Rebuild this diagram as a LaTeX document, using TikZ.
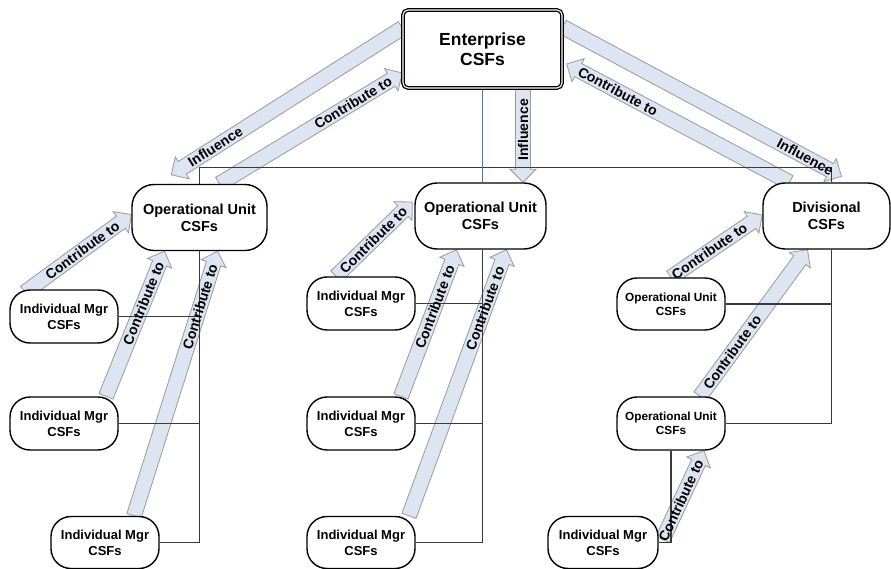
\documentclass[tikz,border=0pt]{standalone}
\usepackage{fontspec}
\setmainfont{Liberation Sans}
\usetikzlibrary{calc}
\pgfdeclarelayer{arrowlayer}
\pgfdeclarelayer{linelayer}
\pgfsetlayers{arrowlayer,linelayer,main}
\definecolor{arrfill}{HTML}{DDE5F3}
\definecolor{arrdraw}{HTML}{9A9A9A}
\definecolor{linegray}{HTML}{3A3A3A}
\definecolor{blueline}{HTML}{5A76A8}
\tikzset{
  entbox/.style={draw=black, line width=1.3pt, double=white, double distance=1.1pt,
    rounded corners=5pt, fill=white, minimum width=159pt, minimum height=78pt, inner sep=0pt,
    align=center, font=\fontsize{17.5}{20.5}\selectfont\bfseries},
  bigbox/.style={draw=black, line width=1.4pt, rounded corners=22pt, fill=white,
    minimum height=66pt, inner sep=0pt, align=center, font=\fontsize{14.5}{17}\selectfont\bfseries},
  imbox/.style={draw=black, line width=1.4pt, rounded corners=20pt, fill=white,
    minimum width=108pt, minimum height=53pt, inner sep=0pt, align=center,
    font=\fontsize{13}{16}\selectfont\bfseries},
  soubox/.style={imbox, font=\fontsize{11.8}{14}\selectfont\bfseries},
  blockarr/.style={fill=arrfill, draw=arrdraw, line width=0.8pt, line join=miter},
  orgline/.style={draw=linegray, line width=1.1pt},
  lab/.style={font=\fontsize{14}{16}\selectfont\bfseries, inner sep=0pt, sloped},
}
\newcommand\barrow[2]{%
  \coordinate (hd) at ($(#2)!13pt!(#1)$);
  \path[blockarr] ($(#1)!7.5pt!90:(#2)$) -- ($(hd)!7.5pt!90:(#2)$) -- ($(hd)!13pt!90:(#2)$)
    -- (#2) -- ($(hd)!13pt!-90:(#2)$) -- ($(hd)!7.5pt!-90:(#2)$) -- ($(#1)!7.5pt!-90:(#2)$) -- cycle;}
\begin{document}
\begin{tikzpicture}[x=1pt,y=-1pt]
\useasboundingbox (0,0) rectangle (891,569);
% nodes
\node[entbox] (ent) at (482.5,49) {Enterprise\\CSFs};
\node[bigbox, minimum width=135pt] (ou1) at (199.5,217.5) {Operational Unit\\CSFs};
\node[bigbox, minimum width=131pt] (ou2) at (480.5,216) {Operational Unit\\CSFs};
\node[bigbox, minimum width=127pt] (div) at (826.5,216) {Divisional\\CSFs};
\node[imbox] (im1a) at (64,316.5) {Individual Mgr\\CSFs};
\node[imbox] (im1b) at (64,423.5) {Individual Mgr\\CSFs};
\node[imbox, minimum height=52pt] (im1c) at (105,542.5) {Individual Mgr\\CSFs};
\node[imbox] (im2a) at (361,303.5) {Individual Mgr\\CSFs};
\node[imbox] (im2b) at (361,423.5) {Individual Mgr\\CSFs};
\node[imbox, minimum height=52pt] (im2c) at (361,542.5) {Individual Mgr\\CSFs};
\node[soubox, minimum height=52pt] (ru1) at (671,304) {Operational Unit\\CSFs};
\node[soubox] (ru2) at (671,423.5) {Operational Unit\\CSFs};
\node[imbox, minimum width=110pt, minimum height=52pt] (ri) at (603,542.5) {Individual Mgr\\CSFs};
% arrow end points
\coordinate (a1) at ([yshift=21pt]ent.west);
\coordinate (b1) at ([xshift=40pt,yshift=9pt]ou1.north west);
\coordinate (a2) at ([xshift=20pt]ou1.north);
\coordinate (b2) at ([yshift=-24pt]ent.west);
\coordinate (a3) at ([xshift=40.5pt]ent.south);
\coordinate (b3) at (a3 |- ou2.north);
\coordinate (a4) at ([yshift=22pt]ent.east);
\coordinate (b4) at ([xshift=15pt,yshift=6pt]div.north);
\coordinate (a5) at ([xshift=-37pt]div.north);
\coordinate (b5) at ([xshift=4pt,yshift=-15pt]ent.east);
\coordinate (a6) at ([xshift=-39pt,yshift=-3pt]im1a.north);
\coordinate (b6) at ([yshift=3pt]ou1.west);
\coordinate (a7) at ([xshift=42pt]im1b.north);
\coordinate (b7) at ([xshift=-35pt]ou1.south);
\coordinate (a8) at ([xshift=29pt]im1c.north);
\coordinate (b8) at ([xshift=18pt]ou1.south);
\coordinate (a9) at ([xshift=-25pt]im2a.north);
\coordinate (b9) at ([xshift=-2pt,yshift=14pt]ou2.west);
\coordinate (a10) at ([xshift=40pt]im2b.north);
\coordinate (b10) at ([xshift=-24pt]ou2.south);
\coordinate (a11) at ([xshift=48pt]im2c.north);
\coordinate (b11) at ([xshift=26pt]ou2.south);
\coordinate (a12) at (ru1.north);
\coordinate (b12) at ([yshift=1pt]div.west);
\coordinate (a13) at ([xshift=29pt]ru2.north);
\coordinate (b13) at ([xshift=-19pt]div.south);
\coordinate (a14) at ([xshift=4pt,yshift=3pt]ri.east);
\coordinate (b14) at ([xshift=33pt]ru2.south);
\begin{pgfonlayer}{arrowlayer}
\barrow{a1}{b1}\barrow{a2}{b2}\barrow{a3}{b3}\barrow{a4}{b4}\barrow{a5}{b5}
\barrow{a6}{b6}\barrow{a7}{b7}\barrow{a8}{b8}
\barrow{a9}{b9}\barrow{a10}{b10}\barrow{a11}{b11}
\barrow{a12}{b12}\barrow{a13}{b13}\barrow{a14}{b14}
\end{pgfonlayer}
\begin{pgfonlayer}{linelayer}
\draw[orgline] (ou1.north) -- ++(0,-16) -| ([xshift=5pt]div.north);
\draw[blueline, line width=1.2pt] (ent.south) -- (ent.south |- ou2.north);
\draw[orgline] (ou1.south) |- (im1c.east);
\draw[orgline] (im1a.east) -| (ou1.south);
\draw[orgline] (im1b.east) -| (ou1.south);
\draw[orgline] ([xshift=2pt]ou2.south) |- (im2c.east);
\draw[orgline] (im2a.east) -| ([xshift=2pt]ou2.south);
\draw[orgline] (im2b.east) -| ([xshift=2pt]ou2.south);
\draw[orgline] ([xshift=5pt]div.south) |- (ru2.east);
\draw[orgline] (ru1.east) -| ([xshift=5pt]div.south);
\draw[orgline] (ru2.south) |- (ri.east);
\end{pgfonlayer}
% labels
\path (a1) -- (b1) node[lab, pos=0.81] {Influence};
\path (a2) -- (b2) node[lab, pos=0.73] {Contribute to};
\node[lab, sloped=false, rotate=90] at ($(a3)!0.44!(b3)$) {Influence};
\path (a4) -- (b4) node[lab, pos=0.87] {Influence};
\path (a5) -- (b5) node[lab, pos=0.77] {Contribute to};
\path (a6) -- (b6) node[lab, pos=0.54] {Contribute to};
\path (a7) -- (b7) node[lab, pos=0.64] {Contribute to};
\path (a8) -- (b8) node[lab, pos=0.79] {Contribute to};
\path (a9) -- (b9) node[lab, pos=0.49] {Contribute to};
\path (a10) -- (b10) node[lab, pos=0.61] {Contribute to};
\path (a11) -- (b11) node[lab, pos=0.78] {Contribute to};
\path (a12) -- (b12) node[lab, pos=0.42] {Contribute to};
\path (a13) -- (b13) node[lab, pos=0.30] {Contribute to};
\path (a14) -- (b14) node[lab, pos=0.44] {Contribute to};
\end{tikzpicture}
\end{document}
